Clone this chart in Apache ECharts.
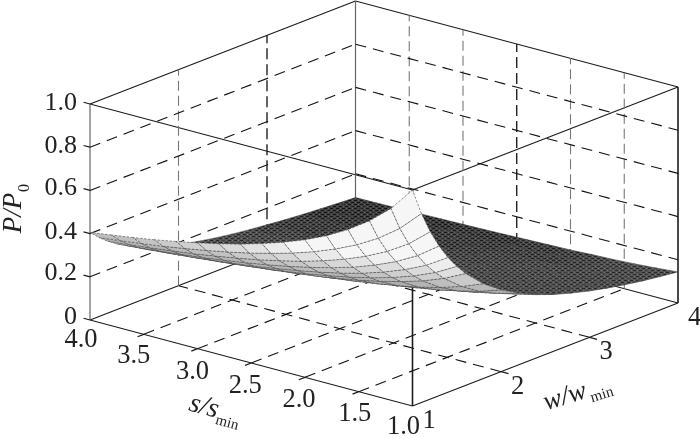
<!DOCTYPE html>
<html><head><meta charset="utf-8">
<style>html,body{margin:0;padding:0;background:#fff}#c{width:700px;height:438px}</style>
<script src="https://cdn.jsdelivr.net/npm/echarts@6/dist/echarts.min.js"></script>
</head><body><div id="c"></div>
<script>
// ---- values ----
const sValues = [1,1.2,1.4,1.6,1.8,2,2.2,2.4,2.6,2.8,3,3.2,3.4,3.6,3.8,4];
const wValues = [1,1.1,1.2,1.3,1.4,1.5,1.6,1.8,2,2.2,2.4,2.6,2.8,3,3.2,3.4,3.6,3.8,4];
const pAtW1_0 = [1.00,.888,.804,.737,.682,.637,.599,.566,.537,.512,.490,.470,.451,.435,.420,.406];
const pAtW1_1 = [.875,.780,.708,.651,.605,.566,.533,.505,.480,.458,.439,.421,.405,.391,.378,.366];
const pAtW1_2 = [.775,.693,.631,.582,.542,.508,.479,.455,.433,.414,.397,.381,.368,.355,.344,.333];
const pAtW1_3 = [.693,.622,.568,.525,.489,.460,.435,.413,.394,.377,.362,.348,.336,.325,.315,.305];
const pAtW1_4 = [.624,.562,.515,.477,.445,.419,.397,.378,.361,.345,.332,.320,.309,.299,.290,.282];
const pAtW1_5 = [.567,.512,.470,.436,.408,.385,.365,.347,.332,.319,.307,.296,.286,.277,.269,.261];
const pAtW1_6 = [.518,.469,.431,.401,.376,.355,.337,.321,.308,.296,.285,.275,.266,.258,.250,.243];
const pAtW1_8 = [.439,.400,.369,.344,.324,.307,.292,.279,.268,.257,.248,.240,.233,.226,.220,.214];
const pAtW2_0 = [.379,.346,.321,.300,.283,.269,.257,.246,.236,.228,.220,.213,.207,.201,.196,.191];
const pAtW2_2 = [.332,.304,.283,.265,.251,.239,.228,.219,.211,.204,.197,.191,.186,.181,.176,.172];
const pAtW2_4 = [.293,.270,.252,.237,.225,.214,.205,.197,.190,.184,.178,.173,.168,.164,.160,.156];
const pAtW2_6 = [.262,.242,.227,.214,.203,.194,.186,.179,.173,.167,.163,.158,.154,.150,.147,.143];
const pAtW2_8 = [.237,.219,.206,.194,.185,.177,.170,.164,.158,.154,.149,.145,.142,.138,.135,.132];
const pAtW3_0 = [.215,.200,.187,.178,.169,.162,.156,.151,.146,.142,.138,.134,.131,.128,.125,.123];
const pAtW3_2 = [.196,.183,.172,.163,.156,.150,.144,.140,.135,.131,.128,.125,.122,.119,.117,.114];
const pAtW3_4 = [.180,.168,.159,.151,.145,.139,.134,.130,.126,.122,.119,.116,.114,.111,.109,.107];
const pAtW3_6 = [.166,.156,.147,.140,.134,.129,.125,.121,.118,.115,.112,.109,.107,.105,.102,.101];
const pAtW3_8 = [.154,.145,.137,.131,.126,.121,.117,.113,.110,.108,.105,.103,.100,.098,.097,.095];
const pAtW4_0 = [.144,.135,.128,.122,.118,.113,.110,.107,.104,.101,.099,.097,.095,.093,.091,.090];
const pRows = [pAtW1_0,pAtW1_1,pAtW1_2,pAtW1_3,pAtW1_4,pAtW1_5,pAtW1_6,pAtW1_8,pAtW2_0,pAtW2_2,
               pAtW2_4,pAtW2_6,pAtW2_8,pAtW3_0,pAtW3_2,pAtW3_4,pAtW3_6,pAtW3_8,pAtW4_0];
const sTicks = [1,1.5,2,2.5,3,3.5,4];
const wTicks = [1,2,3,4];
const pTicks = [0,.2,.4,.6,.8,1];
const sTickLabels = ['1.0','1.5','2.0','2.5','3.0','3.5','4.0'];
const wTickLabels = ['1','2','3','4'];
const pTickLabels = ['0','0.2','0.4','0.6','0.8','1.0'];

// ---- layout: orthographic view of the box, in picture units ----
const view = {x0:90,y0:320,xs:322.5,ys:86,xw:265.5,yw:103,h:216};
function project(s,w,p){
  const a=(4-s)/3,b=(w-1)/3;
  return [view.x0+a*view.xs+b*view.xw, view.y0+a*view.ys-b*view.yw-p*view.h];
}
const SERIF='"Liberation Serif","Times New Roman",serif';
const INK='#222';

// ---- box lines ----
const solid={stroke:'#1c1c1c',lineWidth:1.2};
const solidHeavy={stroke:'#1c1c1c',lineWidth:1.6};
const solidGrey={stroke:'#666',lineWidth:1.2};
const dashDark={stroke:'#111',lineWidth:1.1,lineDash:[11,7]};
const dashGrey={stroke:'#777',lineWidth:1.1,lineDash:[10,5]};
const dashVDark={stroke:'#111',lineWidth:1.3,lineDash:[11,5]};
const boxLines=[];
function seg(a,b,st){boxLines.push({a,b,st});}
[[4,1,4,4],[4,4,1,4],[4,1,1,1],[1,1,1,4]].forEach(e=>{
  seg([e[0],e[1],0],[e[2],e[3],0],solid);
  seg([e[0],e[1],1],[e[2],e[3],1],solid);
});
seg([4,1,0],[4,1,1],solidGrey);
seg([4,4,0],[4,4,1],solidGrey);
seg([1,4,0],[1,4,1],solidHeavy);
seg([1,1,0],[1,1,1],solidHeavy);
sTicks.slice(1,-1).forEach(s=>{
  seg([s,.93,0],[s,1,0],solid);
  seg([s,1,0],[s,4,0],dashDark);
  seg([s,4,0],[s,4,1],s===2.5?dashVDark:dashGrey);
});
wTicks.slice(1,-1).forEach(w=>{
  seg([.93,w,0],[1,w,0],solid);
  seg([1,w,0],[4,w,0],dashDark);
  seg([4,w,0],[4,w,1],w===3?dashVDark:dashGrey);
});
pTicks.slice(1,-1).forEach(p=>{
  seg([4.06,1,p],[4,1,p],solid);
  seg([4,1,p],[4,4,p],dashDark);
  seg([4,4,p],[1,4,p],dashDark);
});
[0,1].forEach(p=>seg([4.06,1,p],[4,1,p],solid));

// ---- fine speckle for the dark face of the mesh ----
const speckles={};
function speckle(g){
  if(speckles[g])return speckles[g];
  const c=document.createElement('canvas');c.width=6;c.height=4;
  const x=c.getContext('2d');
  x.fillStyle=`rgb(${g},${g},${g})`;x.fillRect(0,0,6,4);
  const d=Math.max(10,g-45),l=Math.min(255,g+38);
  x.fillStyle=`rgb(${d},${d},${d})`;x.fillRect(0,0,3,1);x.fillRect(3,2,3,1);
  x.fillStyle=`rgb(${l},${l},${l})`;x.fillRect(4,0,1,1);x.fillRect(1,2,1,1);
  return speckles[g]={image:c,repeat:'repeat'};
}

// ---- surface cells, far ones first ----
const cells=[];
for(let i=sValues.length-2;i>=0;i--)for(let j=wValues.length-2;j>=0;j--)cells.push([i,j]);
function cellPoint(i,j){return project(sValues[i],wValues[j],pRows[j][i]);}
function cellLook(i,j){
  const a=cellPoint(i,j),b=cellPoint(i+1,j),c=cellPoint(i+1,j+1),d=cellPoint(i,j+1);
  const d1=[c[0]-a[0],c[1]-a[1]],d2=[d[0]-b[0],d[1]-b[1]];
  const area=(d1[0]*d2[1]-d1[1]*d2[0])/2;
  const ds=sValues[i+1]-sValues[i],dw=wValues[j+1]-wValues[j];
  const n=area/(6227*ds*dw);
  if(n<0){
    const g=Math.round(Math.min(246,Math.max(150,158-n*42)));
    return {pts:[a,b,c,d],fill:`rgb(${g},${g},${g})`,line:'#4a4a4a',thin:.6,dash:[2.5,1.5]};
  }
  const g=Math.round(Math.min(84,Math.max(44,44+(1-n)*150))/4)*4;
  return {pts:[a,b,c,d],fill:speckle(g),line:`rgb(${g-16},${g-16},${g-16})`,thin:.5,dash:null};
}

// ---- text ----
const sLabelOffsets=[[-9,21],[-4,22],[-6,23],[-6,23],[-5,23],[-10,22],[-9,20]];
const wLabelOffset=[16.5,15];
const pLabelOffsets=[[-13,-3],[-13,-4],[-13,-1],[-13,-2],[-13,-1],[-13,-1]];
const texts=[];
sTicks.forEach((s,i)=>{const q=project(s,1,0);texts.push({t:sTickLabels[i],x:q[0]+sLabelOffsets[i][0],y:q[1]+sLabelOffsets[i][1],f:26.5,c:1});});
wTicks.forEach((w,i)=>{const q=project(1,w,0);texts.push({t:wTickLabels[i],x:q[0]+wLabelOffset[0],y:q[1]+wLabelOffset[1],f:26.5,c:1});});
pTicks.forEach((p,i)=>{const q=project(4,1,p);texts.push({t:pTickLabels[i],x:q[0]+pLabelOffsets[i][0],y:q[1]+pLabelOffsets[i][1],f:26,r:1});});
texts.push({t:'P/P',x:14,y:213,f:27,c:1,it:1,rot:90});
texts.push({t:'0',x:25,y:188,f:16,c:1,rot:90});
texts.push({t:'s/s',x:204,y:407,f:28,c:1,it:1,rot:-15});
texts.push({t:'min',x:227,y:423,f:15,c:1,rot:-15});
texts.push({t:'w/w',x:565,y:397,f:27,c:1,it:1,rot:17});
texts.push({t:'min',x:602,y:395,f:15,c:1,rot:17});

const chart=echarts.init(document.getElementById('c'),null,{renderer:'canvas'});
chart.setOption({
  animation:false,
  backgroundColor:'#fff',
  grid:{left:0,right:0,top:0,bottom:0},
  xAxis:{type:'value',min:0,max:700,show:false},
  yAxis:{type:'value',min:0,max:438,inverse:true,show:false},
  series:[
    {type:'custom',coordinateSystem:'cartesian2d',silent:true,progressive:0,z:1,
     data:boxLines.map((_,i)=>[i,0]),
     renderItem(params,api){
       const l=boxLines[api.value(0)];
       const a=api.coord(project(l.a[0],l.a[1],l.a[2])),b=api.coord(project(l.b[0],l.b[1],l.b[2]));
       return {type:'line',shape:{x1:a[0],y1:a[1],x2:b[0],y2:b[1]},style:Object.assign({fill:null},l.st)};
     }},
    {type:'custom',coordinateSystem:'cartesian2d',silent:true,progressive:0,z:2,
     data:cells,
     renderItem(params,api){
       const k=cellLook(api.value(0),api.value(1));
       return {type:'polygon',shape:{points:k.pts.map(p=>api.coord(p))},
               style:{fill:k.fill,stroke:k.line,lineWidth:k.thin,lineDash:k.dash}};
     }},
    {type:'custom',coordinateSystem:'cartesian2d',silent:true,progressive:0,z:3,
     data:texts.map((_,i)=>[i,0]),
     renderItem(params,api){
       const t=texts[api.value(0)],q=api.coord([t.x,t.y]);
       return {type:'text',x:q[0],y:q[1],rotation:(t.rot||0)*Math.PI/180,
               style:{text:t.t,fill:INK,font:`${t.it?'italic ':''}${t.f}px ${SERIF}`,
                      textAlign:t.r?'right':'center',textVerticalAlign:'middle'}};
     }}
  ]
});
</script></body></html>
